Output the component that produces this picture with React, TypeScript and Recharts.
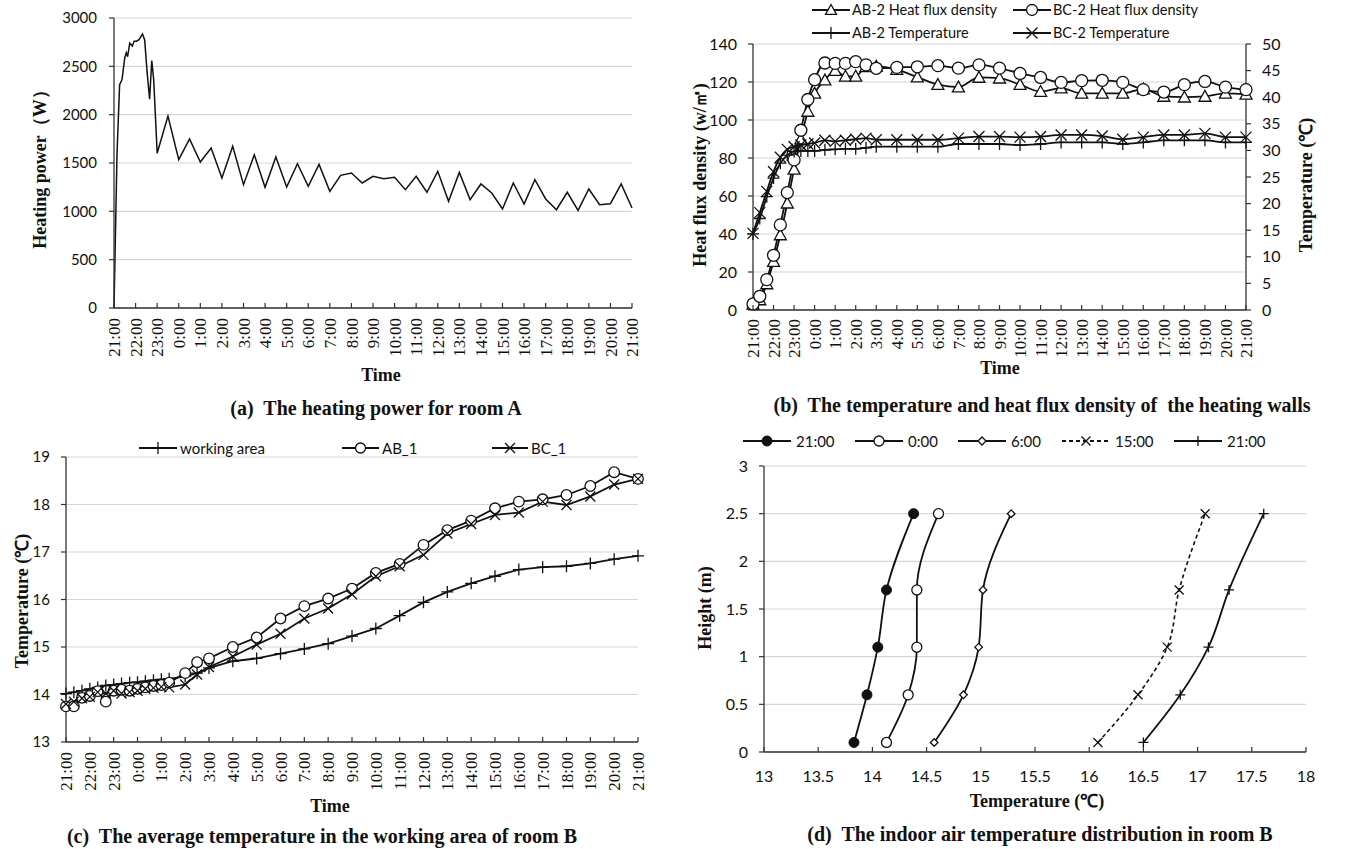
import React from 'react';
import { LineChart, Line, XAxis, YAxis, CartesianGrid } from 'recharts';

const SANS = 'Lato, "Open Sans", sans-serif';
const SERIF = '"Liberation Serif", "Times New Roman", serif';
const INK = '#111';
const AXIS = '#333';
const GRID = '#d6d6d6';

// ---------- shared time axis ----------
const hourTicks = [0, 1, 2, 3, 4, 5, 6, 7, 8, 9, 10, 11, 12, 13, 14, 15, 16, 17, 18, 19, 20, 21, 22, 23, 24];
const timeLabels = ['21:00', '22:00', '23:00', '0:00', '1:00', '2:00', '3:00', '4:00', '5:00', '6:00', '7:00', '8:00', '9:00', '10:00', '11:00', '12:00', '13:00', '14:00', '15:00', '16:00', '17:00', '18:00', '19:00', '20:00', '21:00'];

// ---------- (a) heating power ----------
const powerTime = [0, 0.14, 0.26, 0.37, 0.5, 0.57, 0.63, 0.73, 0.85, 0.93, 1.04, 1.16, 1.32, 1.42, 1.53, 1.65, 1.75, 1.84, 2, 2.5, 3, 3.5, 4, 4.5, 5, 5.5, 6, 6.5, 7, 7.5, 8, 8.5, 9, 9.5, 10, 10.5, 11, 11.5, 12, 12.5, 13, 13.5, 14, 14.5, 15, 15.5, 16, 16.5, 17, 17.5, 18, 18.5, 19, 19.5, 20, 20.5, 21, 21.5, 22, 22.5, 23, 23.5, 24];
const powerW = [0, 1600, 2310, 2360, 2590, 2640, 2600, 2740, 2710, 2760, 2760, 2775, 2835, 2775, 2450, 2160, 2560, 2360, 1600, 1985, 1535, 1750, 1510, 1655, 1345, 1672, 1276, 1586, 1248, 1562, 1252, 1493, 1259, 1486, 1207, 1372, 1397, 1293, 1362, 1338, 1352, 1224, 1362, 1197, 1414, 1103, 1403, 1121, 1283, 1190, 1024, 1293, 1076, 1328, 1128, 1017, 1197, 1010, 1231, 1069, 1079, 1283, 1034];
const powerTicks = [0, 500, 1000, 1500, 2000, 2500, 3000];

// ---------- (b) heat flux & wall temperature ----------
const fluxTime = [0, 0.33, 0.67, 1, 1.33, 1.67, 2, 2.33, 2.67, 3, 3.5, 4, 4.5, 5, 5.5, 6, 7, 8, 9, 10, 11, 12, 13, 14, 15, 16, 17, 18, 19, 20, 21, 22, 23, 24];
const abFlux = [3, 5.3, 13.7, 25.5, 39.5, 56.2, 74, 90, 104.5, 114, 121, 126, 123, 123, 128, 128.2, 126.5, 122.6, 118.6, 117.3, 122.4, 122, 118.6, 115, 116.8, 114, 114, 114, 116.3, 112.4, 112, 112.4, 114, 113.5];
const bcFlux = [3.2, 7.2, 16, 28.8, 44.8, 61.8, 79, 94.6, 110.8, 121.2, 130, 129.8, 129.8, 130.7, 129, 127.2, 127.7, 128, 128.6, 127.3, 129, 127.3, 124.5, 122.4, 119.8, 120.7, 120.9, 119.8, 116, 114.7, 118.6, 120.3, 117.3, 116];
const abTemp = [14.3, 17.2, 21.3, 24.8, 27.6, 29.1, 29.8, 29.9, 29.9, 29.9, 30.1, 30.2, 30.3, 30.3, 30.5, 30.7, 30.7, 30.7, 30.7, 31.2, 31.2, 31.2, 31.0, 31.2, 31.5, 31.5, 31.5, 31.2, 31.5, 31.9, 31.9, 31.9, 31.5, 31.5];
const bcTemp = [14.4, 18.3, 22.3, 26, 28.7, 30.2, 30.7, 31.0, 31.2, 31.4, 31.9, 31.7, 31.9, 32.1, 32.3, 32.0, 32.0, 32.0, 32.0, 32.3, 32.6, 32.6, 32.5, 32.6, 32.9, 32.9, 32.7, 32.1, 32.5, 32.9, 32.9, 33.2, 32.5, 32.5];
const fluxTicks = [0, 20, 40, 60, 80, 100, 120, 140];
const wallTempTicks = [0, 5, 10, 15, 20, 25, 30, 35, 40, 45, 50];

// ---------- (c) average temperature room B ----------
const avgTime = [0, 0.33, 0.67, 1, 1.33, 1.67, 2, 2.33, 2.67, 3, 3.33, 3.67, 4, 4.33, 5, 5.5, 6, 7, 8, 9, 10, 11, 12, 13, 14, 15, 16, 17, 18, 19, 20, 21, 22, 23, 24];
const workingArea = [14.02, 14.05, 14.08, 14.12, 14.15, 14.19, 14.21, 14.23, 14.25, 14.26, 14.28, 14.3, 14.32, 14.33, 14.38, 14.45, 14.56, 14.7, 14.76, 14.86, 14.96, 15.07, 15.23, 15.39, 15.66, 15.94, 16.16, 16.34, 16.49, 16.63, 16.68, 16.7, 16.76, 16.85, 16.92];
const ab1 = [13.75, 13.75, 13.93, 13.97, 14.07, 13.85, 14.08, 14.1, 14.08, 14.12, 14.15, 14.18, 14.2, 14.25, 14.45, 14.68, 14.76, 15.0, 15.2, 15.6, 15.86, 16.02, 16.23, 16.56, 16.75, 17.15, 17.46, 17.66, 17.92, 18.06, 18.11, 18.2, 18.39, 18.68, 18.54];
const bc1 = [13.8, 13.85, 13.92, 13.95, 14.05, 14.02, 14.08, 14.02, 14.05, 14.08, 14.12, 14.14, 14.16, 14.15, 14.21, 14.42, 14.58, 14.8, 15.05, 15.28, 15.6, 15.81, 16.11, 16.49, 16.7, 16.94, 17.39, 17.59, 17.78, 17.83, 18.06, 17.99, 18.17, 18.42, 18.54];
const avgTicks = [13, 14, 15, 16, 17, 18, 19];

// ---------- (d) vertical distribution ----------
const heights = [0.1, 0.6, 1.1, 1.7, 2.5];
const t2100a = [13.83, 13.95, 14.05, 14.13, 14.38];
const t0000 = [14.13, 14.33, 14.41, 14.41, 14.61];
const t0600 = [14.57, 14.84, 14.98, 15.02, 15.28];
const t1500 = [16.08, 16.45, 16.72, 16.83, 17.07];
const t2100b = [16.5, 16.84, 17.1, 17.29, 17.61];
const distTempTicks = [13, 13.5, 14, 14.5, 15, 15.5, 16, 16.5, 17, 17.5, 18];
const heightTicks = [0, 0.5, 1, 1.5, 2, 2.5, 3];

// ---------- tables ----------
const powerData = powerTime.map((t, i) => ({ t, w: powerW[i] }));
const fluxData = fluxTime.map((t, i) => ({ t, abFlux: abFlux[i], bcFlux: bcFlux[i], abTemp: abTemp[i], bcTemp: bcTemp[i] }));
const avgData = avgTime.map((t, i) => ({ t, wa: workingArea[i], ab: ab1[i], bc: bc1[i] }));
const distData = heights.map((h, i) => ({ h, a: t2100a[i], b: t0000[i], c: t0600[i], d: t1500[i], e: t2100b[i] }));

// ---------- markers ----------
type MK = 'circle' | 'disc' | 'triangle' | 'plus' | 'cross' | 'diamond';
function Marker({ kind, cx, cy, s }: { kind: MK; cx: number; cy: number; s: number }) {
  const sw = 1.3;
  switch (kind) {
    case 'circle':
      return <circle cx={cx} cy={cy} r={s} fill="#fff" stroke={INK} strokeWidth={sw} />;
    case 'disc':
      return <circle cx={cx} cy={cy} r={s} fill={INK} stroke={INK} strokeWidth={1} />;
    case 'triangle':
      return <polygon points={`${cx},${cy - s} ${cx + s},${cy + s * 0.8} ${cx - s},${cy + s * 0.8}`} fill="#fff" stroke={INK} strokeWidth={sw} />;
    case 'diamond':
      return <polygon points={`${cx},${cy - s} ${cx + s},${cy} ${cx},${cy + s} ${cx - s},${cy}`} fill="#fff" stroke={INK} strokeWidth={sw} />;
    case 'plus':
      return <path d={`M${cx - s} ${cy}H${cx + s}M${cx} ${cy - s}V${cy + s}`} stroke={INK} strokeWidth={sw} fill="none" />;
    case 'cross':
      return <path d={`M${cx - s} ${cy - s}L${cx + s} ${cy + s}M${cx - s} ${cy + s}L${cx + s} ${cy - s}`} stroke={INK} strokeWidth={sw} fill="none" />;
  }
  return null;
}
const dotFn = (kind: MK, s: number) => (p: any) => {
  if (p.cx == null || p.cy == null) return <g key={`n-${p.index}`} />;
  return <Marker key={`m-${kind}-${p.index}`} kind={kind} cx={p.cx} cy={p.cy} s={s} />;
};

// ---------- ticks ----------
function TimeTick(props: any) {
  const { x, y, payload, fs, gap } = props;
  const ty = y + gap;
  const label = timeLabels[Math.round(payload.value)];
  return (
    <g>
      <line x1={x} y1={y} x2={x} y2={y - 5} stroke={AXIS} strokeWidth={1.2} />
      <text x={x} y={ty} transform={`rotate(-90 ${x} ${ty})`} textAnchor="end" dy="0.36em" fontFamily={SERIF} fontSize={fs} fill="#111">
        {label}
      </text>
    </g>
  );
}
function NumTick(props: any) {
  const { x, y, payload } = props;
  return (
    <g>
      <line x1={x} y1={y} x2={x} y2={y - 5} stroke={AXIS} strokeWidth={1.2} />
      <text x={x} y={y + 24} textAnchor="middle" dy="0.35em" fontFamily={SANS} fontSize={16} fill="#111">
        {payload.value}
      </text>
    </g>
  );
}

// ---------- html helpers ----------
function Txt({ x, y, text, size, bold = true, rotate = false, family = SERIF }: any) {
  return (
    <div
      style={{
        position: 'absolute',
        left: x,
        top: y,
        transform: `translate(-50%, -50%)${rotate ? ' rotate(-90deg)' : ''}`,
        whiteSpace: 'pre',
        fontFamily: family,
        fontSize: size,
        fontWeight: bold ? 700 : 400,
        color: '#111',
        lineHeight: 1,
      }}
    >
      {text}
    </div>
  );
}
function LegendItem({ x, y, kind, s, text, fs, dash, lineW = 40, gap = 3 }: any) {
  return (
    <div style={{ position: 'absolute', left: x, top: y - 10, height: 20, display: 'flex', alignItems: 'center', whiteSpace: 'nowrap' }}>
      <svg width={lineW} height={20} style={{ display: 'block' }}>
        <line x1={0} y1={10} x2={lineW} y2={10} stroke={INK} strokeWidth={1.8} strokeDasharray={dash} />
        <Marker kind={kind} cx={lineW / 2} cy={10} s={s} />
      </svg>
      <span style={{ fontFamily: SANS, fontSize: fs, marginLeft: gap, color: '#111', lineHeight: 1 }}>{text}</span>
    </div>
  );
}

const axisLine = { stroke: AXIS, strokeWidth: 1.3 };
const tickLine = { stroke: AXIS, strokeWidth: 1.2 };

export default function App() {
  return (
    <div style={{ position: 'absolute', left: 0, top: 0, width: 1347, height: 849, background: '#fff', overflow: 'hidden' }}>
      {/* (a) */}
      <div style={{ position: 'absolute', left: 0, top: 0 }}>
        <LineChart width={660} height={395} data={powerData} margin={{ top: 18, right: 28, left: 0, bottom: 0 }}>
          <CartesianGrid vertical={false} stroke={GRID} strokeWidth={1.2} />
          <XAxis dataKey="t" type="number" domain={[0, 24]} ticks={hourTicks} interval={0} height={87} tickSize={0} tickMargin={0} axisLine={axisLine} tickLine={false} tick={(p: any) => <TimeTick {...p} fs={17} gap={10} />} />
          <YAxis type="number" domain={[0, 3000]} ticks={powerTicks} interval={0} width={114} tickSize={5} tickMargin={12} axisLine={axisLine} tickLine={tickLine} tick={{ fill: '#111', fontSize: 15, fontFamily: SANS }} />
          <Line dataKey="w" type="linear" stroke={INK} strokeWidth={1.5} dot={false} activeDot={false} isAnimationActive={false} />
        </LineChart>
      </div>
      <Txt x={40} y={165} text="Heating power（W）" size={18} rotate />
      <Txt x={381} y={375} text="Time" size={18} />
      <Txt x={376} y={408} text="(a)  The heating power for room A" size={20} />

      {/* (b) */}
      <div style={{ position: 'absolute', left: 660, top: 0 }}>
        <LineChart width={687} height={395} data={fluxData} margin={{ top: 44, right: 0, left: 0, bottom: 0 }}>
          <CartesianGrid vertical={false} stroke={GRID} strokeWidth={1.2} yAxisId="L" />
          <XAxis dataKey="t" type="number" domain={[0, 24]} ticks={hourTicks} interval={0} height={85} tickSize={0} tickMargin={0} axisLine={axisLine} tickLine={false} tick={(p: any) => <TimeTick {...p} fs={17} gap={9} />} />
          <YAxis yAxisId="L" orientation="left" type="number" domain={[0, 140]} ticks={fluxTicks} interval={0} width={93} tickSize={5} tickMargin={11} axisLine={axisLine} tickLine={tickLine} tick={{ fill: '#111', fontSize: 16, fontFamily: SANS }} />
          <YAxis yAxisId="R" orientation="right" type="number" domain={[0, 50]} ticks={wallTempTicks} interval={0} width={101} tickSize={5} tickMargin={11} axisLine={axisLine} tickLine={tickLine} tick={{ fill: '#111', fontSize: 16, fontFamily: SANS }} />
          <Line yAxisId="L" dataKey="abFlux" type="monotone" stroke={INK} strokeWidth={1.8} dot={dotFn('triangle', 6)} activeDot={false} isAnimationActive={false} />
          <Line yAxisId="L" dataKey="bcFlux" type="monotone" stroke={INK} strokeWidth={1.8} dot={dotFn('circle', 6)} activeDot={false} isAnimationActive={false} />
          <Line yAxisId="R" dataKey="abTemp" type="monotone" stroke={INK} strokeWidth={1.8} dot={dotFn('plus', 6)} activeDot={false} isAnimationActive={false} />
          <Line yAxisId="R" dataKey="bcTemp" type="monotone" stroke={INK} strokeWidth={1.8} dot={dotFn('cross', 5.5)} activeDot={false} isAnimationActive={false} />
        </LineChart>
      </div>
      <LegendItem x={812} y={10} kind="triangle" s={5.5} text="AB-2 Heat flux density" fs={14.5} lineW={38} gap={2} />
      <LegendItem x={1013} y={10} kind="circle" s={5.5} text="BC-2 Heat flux density" fs={14.5} lineW={38} gap={2} />
      <LegendItem x={812} y={33} kind="plus" s={6} text="AB-2 Temperature" fs={14.5} lineW={38} gap={2} />
      <LegendItem x={1013} y={33} kind="cross" s={5.5} text="BC-2 Temperature" fs={14.5} lineW={38} gap={2} />
      <Txt x={700} y={175} text="Heat flux density (w/㎡)" size={18} rotate />
      <Txt x={1306} y={185} text="Temperature (℃)" size={18} rotate />
      <Txt x={1000} y={368} text="Time" size={18} />
      <Txt x={1042} y={405} text="(b)  The temperature and heat flux density of  the heating walls" size={20} />

      {/* (c) */}
      <div style={{ position: 'absolute', left: 0, top: 430 }}>
        <LineChart width={660} height={380} data={avgData} margin={{ top: 27, right: 22, left: 0, bottom: 0 }}>
          <CartesianGrid vertical={false} stroke={GRID} strokeWidth={1.2} />
          <XAxis dataKey="t" type="number" domain={[0, 24]} ticks={hourTicks} interval={0} height={68} tickSize={0} tickMargin={0} axisLine={axisLine} tickLine={false} tick={(p: any) => <TimeTick {...p} fs={17} gap={10} />} />
          <YAxis type="number" domain={[13, 19]} ticks={avgTicks} interval={0} width={66} tickSize={5} tickMargin={11} axisLine={axisLine} tickLine={tickLine} tick={{ fill: '#111', fontSize: 15, fontFamily: SANS }} />
          <Line dataKey="wa" type="linear" stroke={INK} strokeWidth={1.8} dot={dotFn('plus', 6)} activeDot={false} isAnimationActive={false} />
          <Line dataKey="ab" type="linear" stroke={INK} strokeWidth={1.8} dot={dotFn('circle', 5.3)} activeDot={false} isAnimationActive={false} />
          <Line dataKey="bc" type="linear" stroke={INK} strokeWidth={1.8} dot={dotFn('cross', 5)} activeDot={false} isAnimationActive={false} />
        </LineChart>
      </div>
      <LegendItem x={139} y={448} kind="plus" s={6} text="working area" fs={15} lineW={38} gap={3} />
      <LegendItem x={342} y={448} kind="circle" s={5} text="AB_1" fs={15} lineW={37} gap={3} />
      <LegendItem x={492} y={448} kind="cross" s={5} text="BC_1" fs={15} lineW={36} gap={3} />
      <Txt x={22} y={601} text="Temperature (℃)" size={18} rotate />
      <Txt x={330} y={806} text="Time" size={18} />
      <Txt x={322} y={836} text="(c)  The average temperature in the working area of room B" size={20} />

      {/* (d) */}
      <div style={{ position: 'absolute', left: 680, top: 430 }}>
        <LineChart layout="vertical" width={667} height={380} data={distData} margin={{ top: 36, right: 41, left: 0, bottom: 0 }}>
          <CartesianGrid vertical={false} stroke={GRID} strokeWidth={1.2} />
          <XAxis type="number" domain={[13, 18]} ticks={distTempTicks} interval={0} height={58} tickSize={0} tickMargin={0} axisLine={axisLine} tickLine={false} tick={(p: any) => <NumTick {...p} />} />
          <YAxis type="number" dataKey="h" domain={[0, 3]} reversed ticks={heightTicks} interval={0} width={84} tickSize={5} tickMargin={11} axisLine={axisLine} tickLine={tickLine} tick={{ fill: '#111', fontSize: 16, fontFamily: SANS }} />
          <Line dataKey="a" type="monotone" stroke={INK} strokeWidth={1.8} dot={dotFn('disc', 5)} activeDot={false} isAnimationActive={false} />
          <Line dataKey="b" type="monotone" stroke={INK} strokeWidth={1.8} dot={dotFn('circle', 5)} activeDot={false} isAnimationActive={false} />
          <Line dataKey="c" type="monotone" stroke={INK} strokeWidth={1.8} dot={dotFn('diamond', 3.8)} activeDot={false} isAnimationActive={false} />
          <Line dataKey="d" type="monotone" stroke={INK} strokeWidth={1.6} strokeDasharray="4 3" dot={dotFn('cross', 4.5)} activeDot={false} isAnimationActive={false} />
          <Line dataKey="e" type="monotone" stroke={INK} strokeWidth={1.8} dot={dotFn('plus', 5)} activeDot={false} isAnimationActive={false} />
        </LineChart>
      </div>
      <LegendItem x={743} y={441} kind="disc" s={5} text="21:00" fs={15} lineW={48} gap={5} />
      <LegendItem x={855} y={441} kind="circle" s={5} text="0:00" fs={15} lineW={48} gap={5} />
      <LegendItem x={958} y={441} kind="diamond" s={4} text="6:00" fs={15} lineW={48} gap={5} />
      <LegendItem x={1062} y={441} kind="cross" s={4.5} text="15:00" fs={15} lineW={48} gap={5} dash="4 3" />
      <LegendItem x={1174} y={441} kind="plus" s={5} text="21:00" fs={15} lineW={48} gap={5} />
      <Txt x={705} y={608} text="Height (m)" size={18} rotate />
      <Txt x={1037} y={801} text="Temperature (℃)" size={18} />
      <Txt x={1040} y={834} text="(d)  The indoor air temperature distribution in room B" size={20} />
    </div>
  );
}
